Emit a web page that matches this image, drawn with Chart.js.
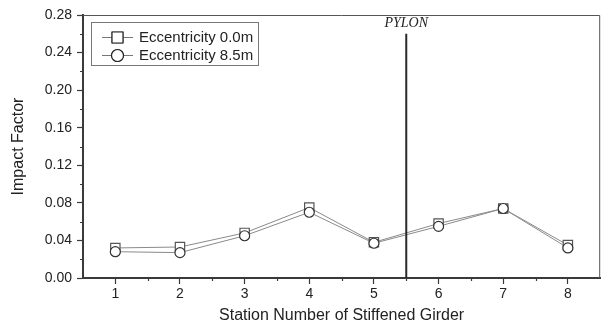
<!DOCTYPE html>
<html>
<head>
<meta charset="utf-8">
<script src="https://cdn.jsdelivr.net/npm/chart.js@4.4.0/dist/chart.umd.min.js"></script>
<style>
  html, body { margin: 0; padding: 0; background: #fff; }
  #wrap { width: 608px; height: 325px; }
</style>
</head>
<body>
<div id="wrap"><canvas id="chart" width="608" height="325"></canvas></div>
<script>
// Data
const stations = [1, 2, 3, 4, 5, 6, 7, 8];
const ecc00 = [0.032, 0.033, 0.048, 0.075, 0.038, 0.058, 0.074, 0.035];
const ecc85 = [0.028, 0.027, 0.045, 0.070, 0.037, 0.055, 0.074, 0.032];
const pylonX = 5.5;
const pylonTop = 0.26;
const yTicks = [0.00, 0.04, 0.08, 0.12, 0.16, 0.20, 0.24, 0.28];

const FONT = "'Liberation Sans', Arial, sans-serif";
const AXIS = "#3a3a3a";

const toPoints = (vals) => stations.map((s, i) => ({ x: s, y: vals[i] }));

// minor ticks, frame, pylon label and the boxed legend
const extras = {
  id: "extras",
  afterDraw(chart) {
    const { ctx, chartArea: a, scales } = chart;
    const x = scales.x, y = scales.y;
    ctx.save();
    // top/right frame
    ctx.strokeStyle = "#555";
    ctx.lineWidth = 1;
    ctx.beginPath();
    ctx.moveTo(a.left, a.top + 0.5);
    ctx.lineTo(a.right - 0.5, a.top + 0.5);
    ctx.lineTo(a.right - 0.5, a.bottom);
    ctx.stroke();

    // minor ticks
    ctx.strokeStyle = AXIS;
    ctx.lineWidth = 1.2;
    ctx.beginPath();
    for (let v = 0.02; v < 0.28; v += 0.04) {
      const py = Math.round(y.getPixelForValue(v)) + 0.5;
      ctx.moveTo(a.left - 3, py);
      ctx.lineTo(a.left, py);
    }
    for (let v = 1.5; v < 8.5; v += 1) {
      const px = Math.round(x.getPixelForValue(v)) + 0.5;
      ctx.moveTo(px, a.bottom);
      ctx.lineTo(px, a.bottom + 3);
    }
    ctx.stroke();

    // pylon label
    ctx.fillStyle = "#222";
    ctx.font = "italic 14px 'Liberation Serif', 'Times New Roman', serif";
    ctx.textAlign = "center";
    ctx.textBaseline = "middle";
    ctx.fillText("PYLON", x.getPixelForValue(pylonX), a.top + 8);

    // legend
    const lx = 91, ly = 22, lw = 167, lh = 43;
    ctx.fillStyle = "#fff";
    ctx.fillRect(lx, ly, lw, lh);
    ctx.strokeStyle = "#777";
    ctx.lineWidth = 1;
    ctx.strokeRect(lx + 0.5, ly + 0.5, lw, lh);
    const rows = [
      { ds: chart.data.datasets[0], yy: 37, r: 7.8 },
      { ds: chart.data.datasets[1], yy: 55, r: 6 }
    ];
    rows.forEach(({ ds, yy, r }) => {
      ctx.strokeStyle = "#777";
      ctx.lineWidth = 1;
      ctx.beginPath();
      ctx.moveTo(102, yy + 0.5);
      ctx.lineTo(133, yy + 0.5);
      ctx.stroke();
      Chart.helpers.drawPoint(ctx, {
        pointStyle: ds.pointStyle,
        radius: r,
        borderWidth: 1.2
      }, 117.5, yy + 0.5);
      ctx.fillStyle = "#fff";
      ctx.strokeStyle = "#222";
      ctx.lineWidth = 1.2;
      ctx.fill();
      ctx.stroke();
      ctx.fillStyle = "#222";
      ctx.font = "15px " + FONT;
      ctx.textAlign = "left";
      ctx.textBaseline = "middle";
      ctx.fillText(ds.label, 139, yy + 1);
    });
    ctx.restore();
  }
};

new Chart(document.getElementById("chart"), {
  type: "scatter",
  data: {
    datasets: [
      {
        label: "Eccentricity 0.0m",
        data: toPoints(ecc00),
        showLine: true,
        borderColor: "#8a8a8a",
        borderWidth: 1,
        pointStyle: "rect",
        pointRadius: 6.6,
        pointBorderColor: "#555",
        pointBackgroundColor: "#fff",
        pointBorderWidth: 1.2,
        order: 2
      },
      {
        label: "Eccentricity 8.5m",
        data: toPoints(ecc85),
        showLine: true,
        borderColor: "#8a8a8a",
        borderWidth: 1,
        pointStyle: "circle",
        pointRadius: 5,
        pointBorderColor: "#333",
        pointBackgroundColor: "#fff",
        pointBorderWidth: 1.2,
        order: 1
      },
      {
        label: "PYLON",
        data: [{ x: pylonX, y: 0 }, { x: pylonX, y: pylonTop }],
        showLine: true,
        borderColor: "#2a2a2a",
        borderWidth: 2,
        pointRadius: 0,
        order: 0
      }
    ]
  },
  options: {
    responsive: false,
    animation: false,
    layout: { padding: { left: 0, right: 2, top: 15, bottom: 0 } },
    plugins: {
      legend: { display: false },
      tooltip: { enabled: false }
    },
    scales: {
      x: {
        type: "linear",
        min: 0.5,
        max: 8.5,
        afterFit: (s) => { s.height = 47; },
        ticks: {
          stepSize: 0.5,
          autoSkip: false,
          maxRotation: 0,
          padding: 2,
          color: "#222",
          font: { family: FONT, size: 14 },
          callback: (v) => (Number.isInteger(v) ? String(v) : "")
        },
        grid: {
          drawOnChartArea: false,
          tickLength: 6,
          tickWidth: 1.2,
          tickColor: (c) => (c.tick && Number.isInteger(c.tick.value) ? AXIS : "rgba(0,0,0,0)")
        },
        border: { color: AXIS, width: 2 },
        title: {
          display: true,
          text: "Station Number of Stiffened Girder",
          color: "#222",
          font: { family: FONT, size: 16 },
          padding: { top: 0, bottom: 0 }
        }
      },
      y: {
        min: 0,
        max: 0.28,
        afterFit: (s) => { s.width = 83; },
        afterBuildTicks: (s) => { s.ticks = yTicks.map((v) => ({ value: v })); },
        ticks: {
          padding: 5,
          color: "#222",
          font: { family: FONT, size: 14 },
          callback: (v) => v.toFixed(2)
        },
        grid: {
          drawOnChartArea: false,
          tickLength: 6,
          tickWidth: 1.2,
          tickColor: AXIS
        },
        border: { color: AXIS, width: 2 },
        title: {
          display: true,
          text: "Impact Factor",
          color: "#222",
          font: { family: FONT, size: 16 },
          padding: { top: 9, bottom: 0 }
        }
      }
    }
  },
  plugins: [extras]
});
</script>
</body>
</html>
